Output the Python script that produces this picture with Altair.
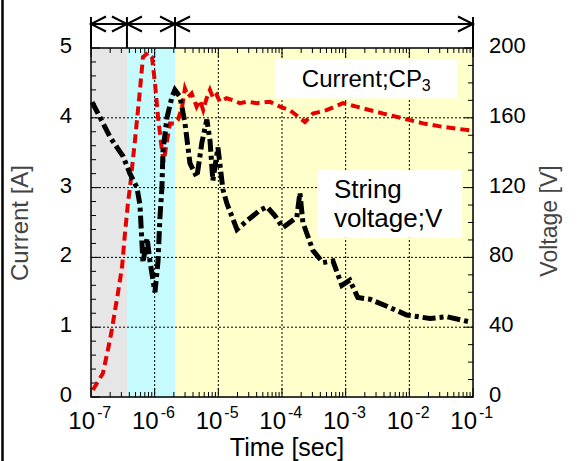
import altair as alt
import pandas as pd

# ---------------- data ----------------
current_time = [1.07e-7, 1.54e-7, 1.99e-7, 2.21e-7, 2.65e-7, 3.07e-7, 3.42e-7, 3.81e-7,
                4.09e-7, 4.91e-7, 5.88e-7, 6.55e-7, 7.85e-7, 9.08e-7, 1.01e-6, 1.13e-6,
                1.30e-6, 1.38e-6, 1.74e-6, 2.08e-6, 2.32e-6, 2.69e-6, 2.99e-6, 3.37e-6,
                3.81e-6, 4.56e-6, 5.14e-6, 5.79e-6, 6.55e-6, 7.38e-6, 8.32e-6, 9.4e-6,
                1.06e-5, 1.35e-5, 1.71e-5, 2.18e-5, 2.78e-5, 3.99e-5, 6.46e-5, 9.27e-5,
                1.33e-4, 2.29e-4, 3.06e-4, 5.0e-4, 9.1e-4, 1.48e-3, 3.9e-3, 8.1e-3,
                1.65e-2, 3.37e-2, 8.9e-2]
current_amp = [0.10, 0.34, 0.82, 1.06, 1.49, 1.86, 2.35, 2.78,
               3.00, 3.68, 4.40, 4.87, 4.93, 4.87, 4.50, 4.01,
               3.54, 3.37, 3.92, 3.92, 3.97, 4.15, 4.42, 4.30,
               4.35, 4.16, 4.25, 4.11, 4.28, 4.40, 4.28, 4.33,
               4.23, 4.28, 4.25, 4.21, 4.23, 4.21, 4.23, 4.16,
               4.11, 3.94, 4.06, 4.11, 4.21, 4.16, 4.06, 3.99,
               3.92, 3.87, 3.82]

voltage_time = [1.04e-7, 1.54e-7, 1.99e-7, 2.56e-7, 3.18e-7, 4.09e-7, 5.27e-7, 5.88e-7,
                6.55e-7, 7.6e-7, 8.43e-7, 1.01e-6, 1.13e-6, 1.21e-6, 1.30e-6, 1.35e-6,
                1.56e-6, 1.87e-6, 2.08e-6, 2.5e-6, 2.99e-6, 3.58e-6, 4.6e-6, 5.53e-6,
                6.6e-6, 7.4e-6, 8.2e-6, 9.86e-6, 1.18e-5, 1.36e-5, 1.96e-5, 2.81e-5,
                4.5e-5, 5.8e-5, 7.7e-5, 1.03e-4, 1.71e-4, 1.91e-4, 2.13e-4, 3.06e-4,
                4.39e-4, 6.3e-4, 8.7e-4, 1.16e-3, 1.55e-3, 2.4e-3, 4.44e-3, 9.1e-3,
                2.1e-2, 3.9e-2, 8.9e-2]
voltage_volt = [169, 157, 149, 143, 138, 128, 120, 110,
                77, 91, 78, 60, 78, 103, 120, 141,
                160, 172, 176, 172, 157, 134, 126, 146,
                159, 147, 124, 143, 119, 111, 96, 101,
                107, 109, 104, 97, 103, 117, 100, 84,
                77, 78, 64, 67, 57, 56, 52, 47,
                45, 46, 43]

region_start = [1e-7, 3.67e-7, 2.09e-6]
region_end = [3.67e-7, 2.09e-6, 1e-1]
region_colors = ["#e6e6e6", "#c6fbfd", "#ffffcc"]

decade_values = [1e-7, 1e-6, 1e-5, 1e-4, 1e-3, 1e-2, 1e-1]
decade_exponents = ["-7", "-6", "-5", "-4", "-3", "-2", "-1"]
current_ticks = [0, 1, 2, 3, 4, 5]
voltage_ticks = [0, 40, 80, 120, 160, 200]

x_title = "Time [sec]"
left_title = "Current [A]"
right_title = "Voltage [V]"
current_label = "Current;CP"
current_label_sub = "3"
voltage_label = ["String", "voltage;V"]

# ---------------- layout ----------------
W, H = 382, 349
FONT = "Liberation Sans"

xs = alt.Scale(type="log", domain=[1e-7, 1e-1], nice=False)
ys = alt.Scale(domain=[0, 5], nice=False, zero=False)
vs = alt.Scale(domain=[0, 200], nice=False, zero=False)


def X(f):
    return alt.X(f"{f}:Q", scale=xs, axis=None)


def Y(f):
    return alt.Y(f"{f}:Q", scale=ys, axis=None)


def V(f):
    return alt.Y(f"{f}:Q", scale=vs, axis=None)


one = pd.DataFrame({"k": [0]})

df_cur = pd.DataFrame({"t": current_time, "a": current_amp})
df_volt = pd.DataFrame({"t": voltage_time, "v": voltage_volt})
df_reg = pd.DataFrame({"s": region_start, "e": region_end, "c": region_colors})
df_dec = pd.DataFrame({"t": decade_values, "ex": decade_exponents})
df_inner_dec = df_dec.iloc[1:-1]

minor_x = [k * 10.0 ** d for d in range(-7, -1) for k in range(2, 10)]
df_minor_x = pd.DataFrame({"t": minor_x})
df_cur_major = pd.DataFrame({"a": current_ticks, "lab": [str(v) for v in current_ticks]})
df_cur_minor = pd.DataFrame({"a": [i * 0.2 for i in range(1, 25) if i % 5]})
df_volt_minor = pd.DataFrame({"v": [10 * i for i in range(1, 20) if i % 4]})
df_volt_major = pd.DataFrame({"v": voltage_ticks, "lab": [str(v) for v in voltage_ticks]})

# background bands
bg = alt.Chart(df_reg).mark_rect().encode(
    x=X("s"), x2="e", y=alt.value(0), y2=alt.value(H),
    color=alt.Color("c:N", scale=None))

grid_x = alt.Chart(df_inner_dec).mark_rule(color="black", strokeDash=[2, 2], strokeWidth=1).encode(x=X("t"))
grid_y = alt.Chart(pd.DataFrame({"a": current_ticks[1:-1]})).mark_rule(
    color="black", strokeDash=[2, 2], strokeWidth=1).encode(y=Y("a"))

tk = dict(color="black", strokeWidth=1)
xt_min_b = alt.Chart(df_minor_x).mark_rule(**tk).encode(x=X("t"), y=alt.value(H), y2=alt.value(H - 5))
xt_min_t = alt.Chart(df_minor_x).mark_rule(**tk).encode(x=X("t"), y=alt.value(0), y2=alt.value(5))
xt_maj_b = alt.Chart(df_dec).mark_rule(**tk).encode(x=X("t"), y=alt.value(H), y2=alt.value(H - 9))
xt_maj_t = alt.Chart(df_dec).mark_rule(**tk).encode(x=X("t"), y=alt.value(0), y2=alt.value(9))
yt_min = alt.Chart(df_cur_minor).mark_rule(**tk).encode(y=Y("a"), x=alt.value(0), x2=alt.value(5))
yt_maj = alt.Chart(df_cur_major).mark_rule(**tk).encode(y=Y("a"), x=alt.value(0), x2=alt.value(9))
ylab_l = alt.Chart(df_cur_major).mark_text(align="right", baseline="middle", fontSize=22, font=FONT,
                                           color="black", dy=-2).encode(
    y=Y("a"), x=alt.value(-19), text="lab:N")

red = alt.Chart(df_cur).mark_line(color="#e60000", strokeWidth=4, strokeDash=[9, 5], strokeCap="butt").encode(
    x=X("t"), y=Y("a"))

left_group = alt.layer(bg, grid_x, grid_y, xt_min_b, xt_min_t, xt_maj_b, xt_maj_t, yt_min, yt_maj,
                       ylab_l, red)

vt_min = alt.Chart(df_volt_minor).mark_rule(**tk).encode(y=V("v"), x=alt.value(W), x2=alt.value(W - 5))
vt_maj = alt.Chart(df_volt_major).mark_rule(**tk).encode(y=V("v"), x=alt.value(W), x2=alt.value(W - 9))
ylab_r = alt.Chart(df_volt_major).mark_text(align="left", baseline="middle", fontSize=22, font=FONT,
                                            color="black", dy=-2).encode(
    y=V("v"), x=alt.value(W + 16), text="lab:N")
black = alt.Chart(df_volt).mark_line(color="black", strokeWidth=5, strokeDash=[13, 4, 4, 4], strokeCap="butt").encode(
    x=X("t"), y=V("v"))

right_group = alt.layer(vt_min, vt_maj, ylab_r, black)

# annotation boxes (positions in data coordinates)
df_boxes = pd.DataFrame({"t0": [8.0e-5, 3.66e-4], "t1": [5.6e-2, 6.7e-2],
                         "a0": [4.28, 2.28], "a1": [4.83, 3.25]})
boxes = alt.Chart(df_boxes).mark_rect(color="white").encode(x=X("t0"), x2="t1", y=Y("a0"), y2="a1")

txt_cur = alt.Chart(pd.DataFrame({"t": [2.05e-4], "a": [4.445], "s": [current_label]})).mark_text(
    align="left", baseline="alphabetic", fontSize=24, font=FONT, color="black").encode(
    x=X("t"), y=Y("a"), text="s:N")
txt_sub = alt.Chart(pd.DataFrame({"t": [1.57e-2], "a": [4.384], "s": [current_label_sub]})).mark_text(
    align="left", baseline="alphabetic", fontSize=16, font=FONT, color="black").encode(
    x=X("t"), y=Y("a"), text="s:N")
txt_volt = alt.Chart(pd.DataFrame({"t": [6.53e-4, 6.53e-4], "a": [2.851, 2.44], "s": voltage_label})).mark_text(
    align="left", baseline="alphabetic", fontSize=26, font=FONT, color="black").encode(
    x=X("t"), y=Y("a"), text="s:N")

frame = alt.Chart(one).mark_rect(filled=False, stroke="black", strokeWidth=1.5).encode(
    x=alt.value(0), x2=alt.value(W), y=alt.value(0), y2=alt.value(H))

# phase arrows above plot
df_bounds = pd.DataFrame({"t": region_start + [region_end[-1]]})
arr_v = alt.Chart(df_bounds).mark_rule(color="black", strokeWidth=2).encode(
    x=X("t"), y=alt.value(-31), y2=alt.value(0))
arr_h = alt.Chart(one).mark_rule(color="black", strokeWidth=2).encode(
    x=alt.value(0), x2=alt.value(W), y=alt.value(-24))
arr_l = alt.Chart(pd.DataFrame({"t": region_start})).mark_point(
    shape="M2,-1L0,0L2,1", size=225, filled=False, color="black", strokeWidth=2, opacity=1).encode(
    x=X("t"), y=alt.value(-24))
arr_r = alt.Chart(pd.DataFrame({"t": region_end})).mark_point(
    shape="M-2,-1L0,0L-2,1", size=225, filled=False, color="black", strokeWidth=2, opacity=1).encode(
    x=X("t"), y=alt.value(-24))

# x tick labels 10^n
lab10 = alt.Chart(df_dec).mark_text(align="right", baseline="alphabetic", fontSize=24, font=FONT,
                                    color="black", dx=4).encode(
    x=X("t"), y=alt.value(381), text=alt.value("10"))
labex = alt.Chart(df_dec).mark_text(align="left", baseline="alphabetic", fontSize=16, font=FONT,
                                    color="black", dx=6).encode(
    x=X("t"), y=alt.value(370), text="ex:N")

# titles
t_x = alt.Chart(one).mark_text(text=x_title, align="center", baseline="alphabetic", fontSize=25,
                               font=FONT, color="black").encode(x=alt.value(196), y=alt.value(408))
t_l = alt.Chart(one).mark_text(text=left_title, align="center", baseline="middle", fontSize=24, angle=270,
                               font=FONT, color="#444444").encode(x=alt.value(-70), y=alt.value(175))
t_r = alt.Chart(one).mark_text(text=right_title, align="center", baseline="middle", fontSize=23, angle=270,
                               font=FONT, color="#444444").encode(x=alt.value(459), y=alt.value(173))

border = alt.Chart(one).mark_rule(color="black", strokeWidth=2.5).encode(
    x=alt.value(-88.5), y=alt.value(-48), y2=alt.value(413))

top_group = alt.layer(boxes, txt_cur, txt_sub, txt_volt, frame, arr_v, arr_h, arr_l, arr_r,
                      lab10, labex, t_x, t_l, t_r, border)

chart = alt.layer(left_group, right_group, top_group).resolve_scale(y="independent").properties(
    width=W, height=H,
    padding={"left": 91, "top": 48, "right": 104, "bottom": 64},
    autosize=alt.AutoSizeParams(type="none"),
    background="white",
).configure_view(stroke=None).configure(font=FONT)

chart.save("out.html", embed_options={"renderer": "svg", "actions": False})
